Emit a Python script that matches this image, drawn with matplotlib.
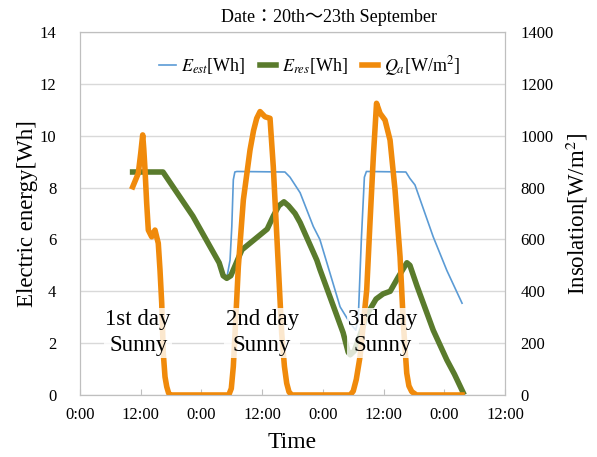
import matplotlib
matplotlib.use("Agg")
import matplotlib.pyplot as plt

# hours since 0:00 of the first day
est_h = [10.4, 16.4, 22.3, 27.5, 28.3, 29.0, 29.65, 30.0, 30.3, 30.6, 31.0,
         40.5, 41.5, 42.5, 43.5, 46.1, 47.4, 51.4, 53.4, 54.5, 55.0, 55.6,
         56.2, 56.6, 64.4, 65.2, 66.2, 69.8, 72.5, 75.5]
est_wh = [8.6, 8.6, 6.9, 5.1, 4.6, 4.5, 5.2, 6.5, 8.3, 8.6, 8.62,
          8.6, 8.4, 8.1, 7.8, 6.5, 6.0, 3.4, 2.76, 2.5, 3.0, 6.0,
          8.4, 8.62, 8.6, 8.35, 8.1, 6.1, 4.8, 3.54]

res_h = [10.4, 16.4, 22.3, 27.5, 28.3, 29.0, 29.8, 32.0, 34.5, 37.0, 38.2,
         39.3, 40.3, 41.2, 42.5, 43.5, 46.8, 47.4, 52.0, 53.0, 53.4, 54.2,
         55.5, 56.7, 58.5, 59.9, 61.3, 62.9, 64.6, 65.2, 66.6, 69.8, 72.5,
         74.0, 75.7]
res_wh = [8.6, 8.6, 6.9, 5.1, 4.6, 4.5, 4.6, 5.6, 6.0, 6.4, 6.9,
          7.3, 7.45, 7.3, 7.0, 6.65, 5.2, 4.85, 2.4, 1.65, 1.55, 1.7,
          2.4, 3.1, 3.7, 3.9, 4.0, 4.55, 5.1, 5.0, 4.2, 2.5, 1.35,
          0.8, 0.1]

qa_h = [10.42, 11.52, 12.0, 12.39, 12.6, 12.85, 13.18, 13.5, 14.17, 14.82,
        15.47, 15.81, 16.15, 16.46, 16.8, 17.14, 17.5, 17.79,
        29.4, 29.9, 30.3, 30.64, 31.29, 32.28, 33.6, 34.3, 34.92, 35.58,
        36.56, 37.55, 38.2, 39.2, 39.86, 40.4, 40.85, 41.3, 41.84,
        53.4, 54.0, 54.6, 55.34, 56.66, 57.3, 57.97, 58.6, 59.3, 60.28,
        61.27, 62.26, 63.25, 63.9, 64.57, 65.0, 65.56, 66.5, 75.5]
qa_w = [803, 855, 932, 1003, 950, 868, 739, 636, 610, 636,
        585, 482, 354, 161, 70, 32, 8, 0,
        0, 25, 110, 238, 495, 752, 945, 1020, 1067, 1093,
        1073, 1067, 880, 495, 238, 110, 45, 12, 0,
        0, 15, 60, 148, 405, 662, 919, 1125, 1086, 1060,
        983, 790, 533, 276, 84, 35, 13, 0, 0]

x_ticks = [0, 12, 24, 36, 48, 60, 72, 84]
x_labels = ["0:00", "12:00", "0:00", "12:00", "0:00", "12:00", "0:00", "12:00"]

day_h = [11.5, 36.0, 59.9]
day_labels = ["1st day\nSunny", "2nd day\nSunny", "3rd day\nSunny"]

plt.rcParams['font.family'] = ['Liberation Serif', 'Noto Sans CJK JP']
plt.rcParams['mathtext.fontset'] = 'stix'

grey = '#BFBFBF'
fig = plt.figure(figsize=(5.97, 4.57), dpi=100)
ax = fig.add_axes([0.134, 0.1357, 0.712, 0.7943])
ax2 = ax.twinx()

l1, = ax.plot(est_h, est_wh, color='#5B9BD5', lw=1.2, label=r'$E_{est}$[Wh]',
              solid_joinstyle='round')
l2, = ax.plot(res_h, res_wh, color='#5A7B2C', lw=4, label=r'$E_{res}$[Wh]',
              solid_joinstyle='round')
l3, = ax2.plot(qa_h, qa_w, color='#F08A0B', lw=4, label=r'$Q_a$[W/m$^2$]',
               solid_joinstyle='round')

ax.set_xlim(0, 84)
ax.set_ylim(0, 14)
ax2.set_ylim(0, 1400)
ax.set_yticks(range(0, 15, 2))
ax2.set_yticks(range(0, 1401, 200))
ax.set_xticks(x_ticks)
ax.set_xticklabels(x_labels)
ax.grid(axis='y', color='#D9D9D9', lw=1)
ax.set_axisbelow(True)

for a in (ax, ax2):
    for s in a.spines.values():
        s.set_color(grey)
ax.tick_params(axis='x', direction='in', length=4, color=grey, labelsize=12, pad=9)
ax.tick_params(axis='y', length=0, labelsize=12, pad=17)
ax2.tick_params(axis='y', length=0, labelsize=12, pad=11)

ax.set_xlabel('Time', fontsize=17, labelpad=6)
ax.set_ylabel('Electric energy[Wh]', fontsize=16.5, labelpad=1)
ax2.set_ylabel('Insolation[W/m$^2$]', fontsize=16.5, labelpad=7)

for h, t in zip(day_h, day_labels):
    ax2.text(h, 240, t, ha='center', va='center', fontsize=16.5, linespacing=1.3,
             bbox=dict(facecolor='white', edgecolor='none', alpha=0.8, pad=1))

ax2.legend(handles=[l1, l2, l3], loc='upper center', bbox_to_anchor=(0.54, 0.985),
           ncol=3, frameon=False, fontsize=13, handlelength=0.9,
           handletextpad=0.3, columnspacing=0.8)

fig.text(437 / 597, 1 - 17 / 457, 'Date：20th～23th September', ha='right',
         va='center', fontsize=13)

fig.savefig('out.png', dpi=100)
